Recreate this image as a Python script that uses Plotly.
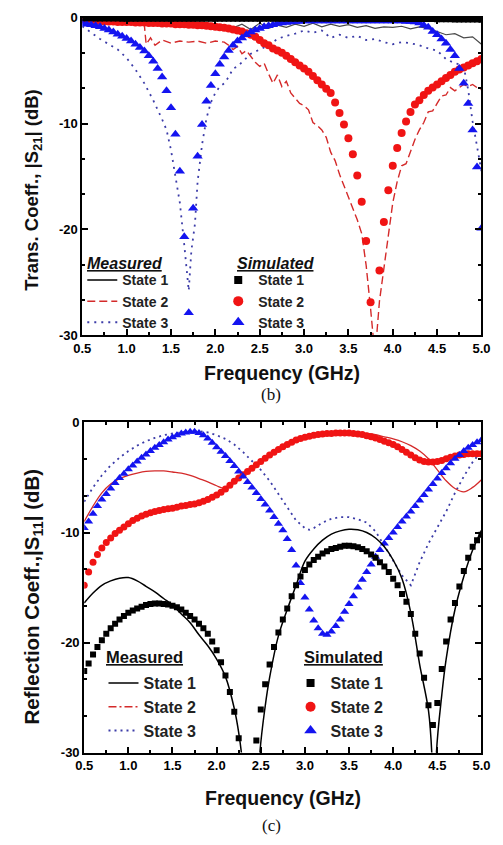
import plotly.graph_objects as go

W, H = 503, 845

# ---------------- DATA ----------------
freq_sim = [0.5, 0.55, 0.6, 0.65, 0.7, 0.75, 0.8, 0.85, 0.9, 0.95,
            1.0, 1.05, 1.1, 1.15, 1.2, 1.25, 1.3, 1.35, 1.4, 1.45,
            1.5, 1.55, 1.6, 1.65, 1.7, 1.75, 1.8, 1.85, 1.9, 1.95,
            2.0, 2.05, 2.1, 2.15, 2.2, 2.25, 2.3, 2.35, 2.4, 2.45,
            2.5, 2.55, 2.6, 2.65, 2.7, 2.75, 2.8, 2.85, 2.9, 2.95,
            3.0, 3.05, 3.1, 3.15, 3.2, 3.25, 3.3, 3.35, 3.4, 3.45,
            3.5, 3.55, 3.6, 3.65, 3.7, 3.75, 3.8, 3.85, 3.9, 3.95,
            4.0, 4.05, 4.1, 4.15, 4.2, 4.25, 4.3, 4.35, 4.4, 4.45,
            4.5, 4.55, 4.6, 4.65, 4.7, 4.75, 4.8, 4.85, 4.9, 4.95,
            5.0]

# (b) |S21| simulated
s21_sim_state1 = [-0.05, -0.05, -0.05, -0.06, -0.06, -0.06, -0.07, -0.07, -0.07, -0.08,
                  -0.08, -0.08, -0.09, -0.09, -0.09, -0.1, -0.1, -0.1, -0.1, -0.1,
                  -0.1, -0.1, -0.1, -0.1, -0.1, -0.1, -0.1, -0.1, -0.1, -0.1,
                  -0.1, -0.1, -0.1, -0.1, -0.1, -0.1, -0.1, -0.1, -0.1, -0.1,
                  -0.1, -0.1, -0.1, -0.1, -0.1, -0.1, -0.1, -0.1, -0.1, -0.1,
                  -0.1, -0.1, -0.1, -0.1, -0.1, -0.1, -0.1, -0.1, -0.1, -0.1,
                  -0.11, -0.11, -0.11, -0.11, -0.11, -0.11, -0.11, -0.11, -0.11, -0.11,
                  -0.12, -0.12, -0.12, -0.12, -0.12, -0.12, -0.12, -0.12, -0.12, -0.12,
                  -0.13, -0.13, -0.14, -0.14, -0.15, -0.15, -0.16, -0.16, -0.17, -0.17,
                  -0.18]
s21_sim_state2 = [-0.15, -0.2, -0.25, -0.3, -0.3, -0.35, -0.35, -0.35, -0.4, -0.4,
                  -0.4, -0.4, -0.45, -0.45, -0.45, -0.5, -0.5, -0.5, -0.55, -0.55,
                  -0.55, -0.6, -0.6, -0.6, -0.65, -0.65, -0.7, -0.7, -0.75, -0.8,
                  -0.85, -0.9, -0.95, -1.0, -1.1, -1.2, -1.3, -1.45, -1.6, -1.8,
                  -2.1, -2.4, -2.6, -2.9, -3.1, -3.3, -3.6, -3.9, -4.2, -4.5,
                  -4.8, -5.1, -5.5, -5.9, -6.3, -6.7, -7.1, -8.0, -9.0, -10.1,
                  -11.4, -12.9, -14.9, -17.4, -21.1, -26.9, -34.0, -23.9, -19.3, -16.3,
                  -14.0, -12.3, -10.9, -9.8, -8.9, -8.2, -7.8, -7.3, -6.9, -6.6,
                  -6.3, -6.0, -5.7, -5.4, -5.1, -4.9, -4.7, -4.5, -4.3, -4.1,
                  -3.9]
s21_sim_state3 = [-0.5, -0.6, -0.65, -0.75, -0.85, -1.0, -1.15, -1.35, -1.55, -1.75,
                  -1.95, -2.2, -2.5, -2.8, -3.15, -3.6, -4.1, -4.8, -5.6, -6.9,
                  -8.5, -11.0, -14.5, -20.7, -27.9, -18.0, -13.1, -10.1, -7.9, -6.4,
                  -5.3, -4.4, -3.7, -3.1, -2.6, -2.2, -1.9, -1.6, -1.35, -1.15,
                  -1.0, -0.85, -0.75, -0.65, -0.55, -0.5, -0.45, -0.4, -0.35, -0.35,
                  -0.3, -0.3, -0.3, -0.3, -0.3, -0.3, -0.3, -0.3, -0.3, -0.3,
                  -0.3, -0.3, -0.3, -0.3, -0.3, -0.3, -0.3, -0.3, -0.3, -0.3,
                  -0.3, -0.3, -0.3, -0.35, -0.35, -0.4, -0.5, -0.7, -0.9, -1.3,
                  -1.6, -2.0, -2.4, -3.0, -3.6, -4.8, -6.2, -8.1, -10.6, -14.1,
                  -19.9]

# (b) |S21| measured
s21_meas1_f = [0.5, 0.6, 0.7, 0.8, 0.9, 1.0, 1.1, 1.2, 1.3, 1.4, 1.5, 1.6, 1.7, 1.8, 1.9,
               2.0, 2.1, 2.2, 2.3, 2.4, 2.5, 2.6, 2.7, 2.8, 2.9, 3.0, 3.1, 3.2, 3.3, 3.4,
               3.5, 3.6, 3.7, 3.8, 3.9, 4.0, 4.1, 4.2, 4.3, 4.4, 4.5, 4.6, 4.7, 4.8, 4.9, 5.0]
s21_meas1 = [-0.15, -0.2, -0.2, -0.25, -0.3, -0.35, -0.4, -0.45, -0.5, -0.55, -0.6, -0.65,
             -0.7, -0.75, -0.8, -0.85, -0.9, -0.95, -0.6, -1.1, -0.5, -1.0, -0.7, -0.9,
             -0.6, -0.8, -0.5, -0.85, -0.6, -0.8, -0.65, -0.9, -0.75, -1.0, -0.85, -0.9,
             -0.8, -1.05, -0.85, -1.0, -1.3, -1.6, -1.5, -1.9, -1.8, -2.5]

s21_meas2_f = [0.5, 0.7, 0.9, 1.1, 1.2, 1.22, 1.27, 1.32, 1.4, 1.5, 1.6, 1.7, 1.8, 1.9,
               2.0, 2.1, 2.15, 2.2, 2.25, 2.3, 2.35, 2.4, 2.45, 2.5, 2.55, 2.6, 2.65,
               2.7, 2.75, 2.8, 2.85, 2.9, 2.95, 3.0, 3.05, 3.1, 3.15, 3.2, 3.25, 3.3,
               3.35, 3.4, 3.45, 3.5, 3.55, 3.6, 3.65, 3.7, 3.75, 3.8, 3.85, 3.9, 3.95,
               4.0, 4.05, 4.1, 4.15, 4.2, 4.25, 4.3, 4.35, 4.4, 4.45, 4.5, 4.55, 4.6,
               4.65, 4.7, 4.75, 4.8, 4.85, 4.9, 4.95, 5.0]
s21_meas2 = [-0.2, -0.3, -0.4, -0.55, -0.7, -2.5, -1.9, -2.6, -2.1, -2.4, -2.2, -2.3,
             -2.2, -2.4, -2.2, -2.3, -2.6, -3.0, -2.7, -3.4, -3.1, -3.7, -4.2, -4.6,
             -4.3, -5.3, -6.2, -5.4, -6.5, -6.0, -7.1, -7.6, -8.1, -8.3, -8.7, -9.9,
             -10.2, -10.6, -11.3, -12.7, -13.5, -14.8, -15.9, -17.0, -18.2, -19.1,
             -20.4, -23.4, -27.5, -32.0, -26.8, -23.8, -20.7, -17.5, -15.5, -14.0,
             -13.8, -12.6, -11.5, -10.6, -9.9, -8.9, -8.8, -8.1, -7.4, -7.3, -6.6,
             -6.9, -6.6, -6.3, -6.5, -6.3, -6.6, -6.8]

s21_meas3_f = [0.5, 0.6, 0.7, 0.8, 0.9, 1.0, 1.1, 1.2, 1.3, 1.4, 1.45, 1.5, 1.55, 1.6,
               1.65, 1.7, 1.73, 1.77, 1.8, 1.85, 1.9, 1.95, 2.0, 2.05, 2.1, 2.15, 2.2,
               2.25, 2.3, 2.4, 2.5, 2.6, 2.7, 2.8, 2.9, 3.0, 3.1, 3.2, 3.3, 3.4, 3.5,
               3.6, 3.7, 3.8, 3.9, 4.0, 4.1, 4.2, 4.3, 4.4, 4.5, 4.6, 4.7, 4.75, 4.8,
               4.85, 4.9, 4.95, 5.0]
s21_meas3 = [-0.8, -1.4, -2.0, -2.5, -3.0, -3.8, -4.9, -6.2, -7.8, -9.6, -10.6, -12.5,
             -14.8, -17.5, -21.5, -25.8, -22.0, -19.5, -15.5, -12.0, -9.5, -8.0, -7.1,
             -6.5, -6.2, -5.6, -4.8, -4.6, -4.2, -3.4, -3.0, -2.6, -2.0, -1.7, -1.5,
             -1.2, -1.4, -1.2, -1.9, -1.6, -1.9, -1.7, -2.1, -2.0, -2.3, -2.5, -2.3,
             -2.4, -2.6, -2.9, -3.1, -3.9, -4.3, -4.4, -4.6, -6.8, -9.8, -12.2, -14.5]

# (c) |S11| simulated
s11_sim_state1 = [-22.6, -21.9, -21.1, -20.4, -19.8, -19.2, -18.7, -18.3, -17.9, -17.6,
                  -17.3, -17.1, -16.9, -16.75, -16.6, -16.5, -16.45, -16.45, -16.5, -16.55,
                  -16.65, -16.8, -17.0, -17.3, -17.6, -17.9, -18.3, -18.7, -19.2, -19.9,
                  -20.7, -21.8, -23.0, -24.5, -26.3, -28.7, -32.0, -38.0, -33.0, -28.9,
                  -26.1, -23.8, -22.0, -20.4, -19.1, -17.9, -16.9, -15.8, -14.8, -14.0,
                  -13.4, -12.9, -12.5, -12.2, -11.9, -11.7, -11.5, -11.4, -11.3, -11.2,
                  -11.2, -11.25, -11.35, -11.5, -11.7, -12.0, -12.3, -12.7, -13.1, -13.6,
                  -14.2, -14.8, -15.6, -16.3, -17.4, -19.2, -21.0, -23.2, -25.7, -27.5,
                  -25.5, -22.4, -19.9, -17.9, -16.4, -14.9, -13.5, -12.3, -11.3, -10.7,
                  -10.2]
s11_sim_state2 = [-14.8, -13.6, -12.7, -12.0, -11.4, -10.9, -10.5, -10.1, -9.8, -9.5,
                  -9.2, -8.9, -8.7, -8.5, -8.35, -8.2, -8.1, -8.0, -7.9, -7.85,
                  -7.8, -7.7, -7.6, -7.55, -7.45, -7.4, -7.3, -7.15, -7.0, -6.8,
                  -6.6, -6.35, -6.05, -5.7, -5.35, -5.05, -4.75, -4.45, -4.15, -3.85,
                  -3.55, -3.25, -2.95, -2.7, -2.45, -2.2, -2.0, -1.8, -1.6, -1.45,
                  -1.35, -1.25, -1.15, -1.1, -1.05, -1.0, -1.0, -0.95, -0.95, -0.95,
                  -0.95, -1.0, -1.05, -1.1, -1.2, -1.3, -1.4, -1.55, -1.7, -1.85,
                  -2.0, -2.2, -2.45, -2.7, -2.95, -3.2, -3.4, -3.55, -3.6, -3.6,
                  -3.55, -3.45, -3.3, -3.15, -3.05, -2.95, -2.9, -2.85, -2.85, -2.85,
                  -2.85]
s11_sim_state3 = [-9.6, -9.0, -8.3, -7.6, -7.0, -6.5, -6.0, -5.5, -5.05, -4.65,
                  -4.25, -3.9, -3.55, -3.2, -2.9, -2.6, -2.3, -2.05, -1.8, -1.55,
                  -1.35, -1.15, -1.0, -0.9, -0.85, -0.85, -0.95, -1.15, -1.45, -1.85,
                  -2.25, -2.65, -3.05, -3.5, -3.95, -4.45, -4.9, -5.4, -5.9, -6.4,
                  -6.95, -7.45, -8.0, -8.6, -9.2, -9.8, -10.6, -11.6, -13.0, -14.6,
                  -15.9, -17.0, -18.0, -18.7, -19.2, -19.3, -19.0, -18.5, -17.9, -17.2,
                  -16.5, -15.8, -15.0, -14.3, -13.6, -12.9, -12.2, -11.6, -11.0, -10.5,
                  -10.0, -9.5, -9.0, -8.55, -8.1, -7.6, -7.1, -6.6, -6.1, -5.6,
                  -5.1, -4.6, -4.15, -3.7, -3.3, -2.95, -2.6, -2.3, -2.05, -1.8,
                  -1.6]

# (c) |S11| measured
s11_meas1_f = [0.5, 0.6, 0.7, 0.8, 0.9, 1.0, 1.1, 1.2, 1.3, 1.4, 1.5, 1.6, 1.7, 1.8, 1.9,
               2.0, 2.1, 2.2, 2.25, 2.3, 2.39, 2.49, 2.55, 2.6, 2.7, 2.8, 2.9, 3.0, 3.1,
               3.2, 3.3, 3.4, 3.5, 3.6, 3.7, 3.8, 3.9, 4.0, 4.1, 4.2, 4.3, 4.4, 4.44,
               4.465, 4.49, 4.55, 4.6, 4.7, 4.8, 4.9, 5.0]
s11_meas1 = [-16.4, -15.5, -14.8, -14.4, -14.15, -14.1, -14.4, -14.9, -15.4, -16.0, -16.6,
             -17.4, -18.2, -19.3, -20.3, -21.5, -23.1, -26.0, -28.2, -31.5, -45.0, -30.0,
             -25.8, -23.2, -19.4, -17.0, -14.8, -12.6, -11.5, -10.7, -10.15, -9.85, -9.7,
             -9.75, -10.0, -10.5, -11.3, -12.5, -14.2, -17.3, -22.0, -26.2, -30.5, -40.0,
             -30.0, -24.8, -21.5, -17.0, -14.0, -11.6, -9.8]

s11_meas2_f = [0.5, 0.6, 0.7, 0.8, 0.9, 1.0, 1.1, 1.2, 1.3, 1.4, 1.5, 1.6, 1.7, 1.8, 1.9,
               2.0, 2.1, 2.2, 2.3, 2.4, 2.5, 2.6, 2.7, 2.8, 2.9, 3.0, 3.1, 3.2, 3.3, 3.4,
               3.5, 3.6, 3.7, 3.8, 3.9, 4.0, 4.1, 4.2, 4.3, 4.4, 4.5, 4.6, 4.7, 4.8, 4.9, 5.0]
s11_meas2 = [-9.0, -7.6, -6.4, -5.6, -5.1, -4.8, -4.6, -4.45, -4.4, -4.4, -4.5, -4.6, -4.8,
             -5.1, -5.4, -5.75, -6.0, -5.5, -4.8, -4.2, -3.6, -3.0, -2.5, -2.0, -1.6, -1.3,
             -1.1, -1.0, -0.95, -0.9, -0.9, -0.95, -1.0, -1.1, -1.3, -1.5, -1.75, -2.1,
             -2.6, -3.3, -4.3, -5.3, -6.0, -6.3, -5.9, -5.2]

s11_meas3_f = [0.5, 0.6, 0.7, 0.8, 0.9, 1.0, 1.1, 1.2, 1.3, 1.4, 1.5, 1.6, 1.7, 1.8, 1.9,
               2.0, 2.1, 2.2, 2.3, 2.4, 2.5, 2.6, 2.7, 2.8, 2.9, 3.0, 3.05, 3.1, 3.2, 3.3,
               3.4, 3.5, 3.6, 3.7, 3.8, 3.9, 4.0, 4.1, 4.2, 4.3, 4.4, 4.5, 4.6, 4.7, 4.8,
               4.9, 5.0]
s11_meas3 = [-7.2, -5.9, -4.8, -3.9, -3.2, -2.6, -2.1, -1.7, -1.4, -1.15, -1.0, -0.9, -0.8,
             -0.8, -0.9, -1.15, -1.5, -2.0, -2.7, -3.5, -4.3, -5.3, -6.5, -7.8, -8.9, -9.6,
             -9.75, -9.6, -9.1, -8.75, -8.6, -8.6, -8.8, -9.1, -9.9, -11.2, -12.5, -13.9,
             -14.8, -12.7, -11.0, -9.5, -8.1, -6.4, -4.9, -3.6, -2.6]

x_ticks = [0.5, 1.0, 1.5, 2.0, 2.5, 3.0, 3.5, 4.0, 4.5, 5.0]
x_tick_text = ["0.5", "1.0", "1.5", "2.0", "2.5", "3.0", "3.5", "4.0", "4.5", "5.0"]
y_ticks = [0, -10, -20, -30]
y_tick_text = ["0", "-10", "-20", "-30"]
state_names = ["State 1", "State 2", "State 3"]

# ---------------- STYLE ----------------
FONT = "Liberation Sans, Arial, sans-serif"
SERIF = "Liberation Serif, Times New Roman, serif"
BLACK = "#000000"
RED = "#f01414"
BLUE = "#1414f0"
RED_LINE = "#d42a2a"
DOT_BLUE = "#3c3ca8"
GRAY = "#4a4a4a"


def px_x(p):
    return p / W


def px_y(p):
    return 1 - p / H


fig = go.Figure()

# ---- top panel (b): measured lines ----
fig.add_trace(go.Scatter(x=s21_meas1_f, y=s21_meas1, mode="lines",
                         line=dict(color=GRAY, width=1.2), showlegend=False,
                         xaxis="x", yaxis="y"))
fig.add_trace(go.Scatter(x=s21_meas2_f, y=s21_meas2, mode="lines",
                         line=dict(color=RED_LINE, width=1.4, dash="8px,4px"),
                         showlegend=False, xaxis="x", yaxis="y"))
fig.add_trace(go.Scatter(x=s21_meas3_f, y=s21_meas3, mode="lines",
                         line=dict(color=DOT_BLUE, width=1.8, dash="2px,5px"),
                         showlegend=False, xaxis="x", yaxis="y"))
# ---- top panel: simulated markers ----
fig.add_trace(go.Scatter(x=freq_sim, y=s21_sim_state2, mode="markers",
                         marker=dict(symbol="circle", size=8, color=RED),
                         showlegend=False, xaxis="x", yaxis="y"))
fig.add_trace(go.Scatter(x=freq_sim, y=s21_sim_state3, mode="markers",
                         marker=dict(symbol="triangle-up", size=9, color=BLUE),
                         showlegend=False, xaxis="x", yaxis="y"))
fig.add_trace(go.Scatter(x=freq_sim, y=s21_sim_state1, mode="markers",
                         marker=dict(symbol="square", size=6, color=BLACK),
                         showlegend=False, xaxis="x", yaxis="y"))

# ---- bottom panel (c): measured lines ----
fig.add_trace(go.Scatter(x=s11_meas3_f, y=s11_meas3, mode="lines",
                         line=dict(color=DOT_BLUE, width=1.8, dash="2px,4px"),
                         showlegend=False, xaxis="x2", yaxis="y2"))
fig.add_trace(go.Scatter(x=s11_meas2_f, y=s11_meas2, mode="lines",
                         line=dict(color=RED_LINE, width=1.3, shape="spline"),
                         showlegend=False, xaxis="x2", yaxis="y2"))
# ---- bottom panel: simulated markers ----
fig.add_trace(go.Scatter(x=freq_sim, y=s11_sim_state2, mode="markers",
                         marker=dict(symbol="circle", size=7, color=RED),
                         showlegend=False, xaxis="x2", yaxis="y2"))
fig.add_trace(go.Scatter(x=freq_sim, y=s11_sim_state3, mode="markers",
                         marker=dict(symbol="triangle-up", size=8, color=BLUE),
                         showlegend=False, xaxis="x2", yaxis="y2"))
fig.add_trace(go.Scatter(x=freq_sim, y=s11_sim_state1, mode="markers",
                         marker=dict(symbol="square", size=6, color=BLACK),
                         showlegend=False, xaxis="x2", yaxis="y2"))
fig.add_trace(go.Scatter(x=s11_meas1_f, y=s11_meas1, mode="lines",
                         line=dict(color=BLACK, width=1.5, shape="spline"),
                         showlegend=False, xaxis="x2", yaxis="y2"))

# ---- legend entries ----
meas_styles_top = [dict(color=BLACK, width=1.5),
                   dict(color=RED_LINE, width=1.5, dash="8px,4px"),
                   dict(color=DOT_BLUE, width=2, dash="2px,5px")]
meas_styles_bot = [dict(color=BLACK, width=1.5),
                   dict(color=RED_LINE, width=1.5, dash="8px,3px,2px,3px"),
                   dict(color=DOT_BLUE, width=2, dash="2px,4px")]
sim_markers = [dict(symbol="square", size=8, color=BLACK),
               dict(symbol="circle", size=10, color=RED),
               dict(symbol="triangle-up", size=11, color=BLUE)]

for i, nm in enumerate(state_names):
    fig.add_trace(go.Scatter(x=[None], y=[None], mode="lines", name=nm,
                             line=meas_styles_top[i], legend="legend",
                             xaxis="x", yaxis="y"))
    fig.add_trace(go.Scatter(x=[None], y=[None], mode="markers", name=nm,
                             marker=sim_markers[i], legend="legend2",
                             xaxis="x", yaxis="y"))
    fig.add_trace(go.Scatter(x=[None], y=[None], mode="lines", name=nm,
                             line=meas_styles_bot[i], legend="legend3",
                             xaxis="x2", yaxis="y2"))
    fig.add_trace(go.Scatter(x=[None], y=[None], mode="markers", name=nm,
                             marker=sim_markers[i], legend="legend4",
                             xaxis="x2", yaxis="y2"))

axis_common = dict(showline=True, linecolor=BLACK, linewidth=2, mirror="allticks",
                   ticks="inside", ticklen=6, tickwidth=1.5, tickcolor=BLACK,
                   showgrid=False, zeroline=False,
                   tickfont=dict(family=FONT, size=13, color=BLACK, weight="bold"))

xa = dict(axis_common, range=[0.5, 5.0], tickmode="array", tickvals=x_ticks,
          ticktext=x_tick_text,
          minor=dict(ticks="inside", ticklen=3, tickwidth=1.5, tickcolor=BLACK,
                     dtick=0.25, tick0=0, showgrid=False))
ya = dict(axis_common, range=[-30, 0], tickmode="array", tickvals=y_ticks,
          ticktext=y_tick_text,
          minor=dict(ticks="inside", ticklen=3, tickwidth=1.5, tickcolor=BLACK,
                     dtick=10 / 3, tick0=0, showgrid=False))

leg_common = dict(bgcolor="rgba(0,0,0,0)", borderwidth=0, xanchor="left",
                  yanchor="top", orientation="v", traceorder="normal",
                  itemclick=False, itemdoubleclick=False)

fig.update_layout(
    width=W, height=H, autosize=False,
    margin=dict(l=0, r=0, t=0, b=0),
    paper_bgcolor="white", plot_bgcolor="white",
    font=dict(family=FONT, color=BLACK),
    xaxis=dict(xa, domain=[px_x(76), px_x(490)], anchor="y"),
    yaxis=dict(ya, domain=[px_y(334), px_y(11)], anchor="x"),
    xaxis2=dict(xa, domain=[px_x(78), px_x(490)], anchor="y2"),
    yaxis2=dict(ya, domain=[px_y(759), px_y(423)], anchor="x2"),
    legend=dict(leg_common, x=px_x(76), y=px_y(262),
                font=dict(family=FONT, size=14, color="#222", weight="bold")),
    legend2=dict(leg_common, x=px_x(217), y=px_y(262),
                 font=dict(family=FONT, size=14, color="#222", weight="bold")),
    legend3=dict(leg_common, x=px_x(98), y=px_y(671),
                 font=dict(family=FONT, size=16, color="#222", weight="bold")),
    legend4=dict(leg_common, x=px_x(292), y=px_y(671),
                 font=dict(family=FONT, size=16, color="#222", weight="bold")),
)

ann = []


def add_text(text, x, y, size, angle=0, family=FONT, weight="bold", xanchor="center"):
    ann.append(dict(text=text, x=px_x(x), y=px_y(y), xref="paper", yref="paper",
                    showarrow=False, textangle=angle, xanchor=xanchor, yanchor="middle",
                    font=dict(family=family, size=size, color="#111", weight=weight)))


add_text("Trans. Coeff., |S<sub>21</sub>| (dB)", 25, 186, 18.5, angle=-90)
add_text("Reflection Coeff.,|S<sub>11</sub>| (dB)", 25, 600, 20.5, angle=-90)
add_text("Frequency (GHz)", 283, 373, 19.5)
add_text("Frequency (GHz)", 284, 805, 19.5)
add_text("(b)", 272, 395, 17, family=SERIF, weight="normal")
add_text("(c)", 272, 833, 17, family=SERIF, weight="normal")
add_text("<i><u>Measured</u></i>", 79, 261, 16, xanchor="left")
add_text("<i><u>Simulated</u></i>", 234, 261, 16, xanchor="left")
add_text("<u>Measured</u>", 99, 662, 16.5, xanchor="left")
add_text("<u>Simulated</u>", 304, 662, 16.5, xanchor="left")

fig.update_layout(annotations=ann)

fig.write_html("out.html")
